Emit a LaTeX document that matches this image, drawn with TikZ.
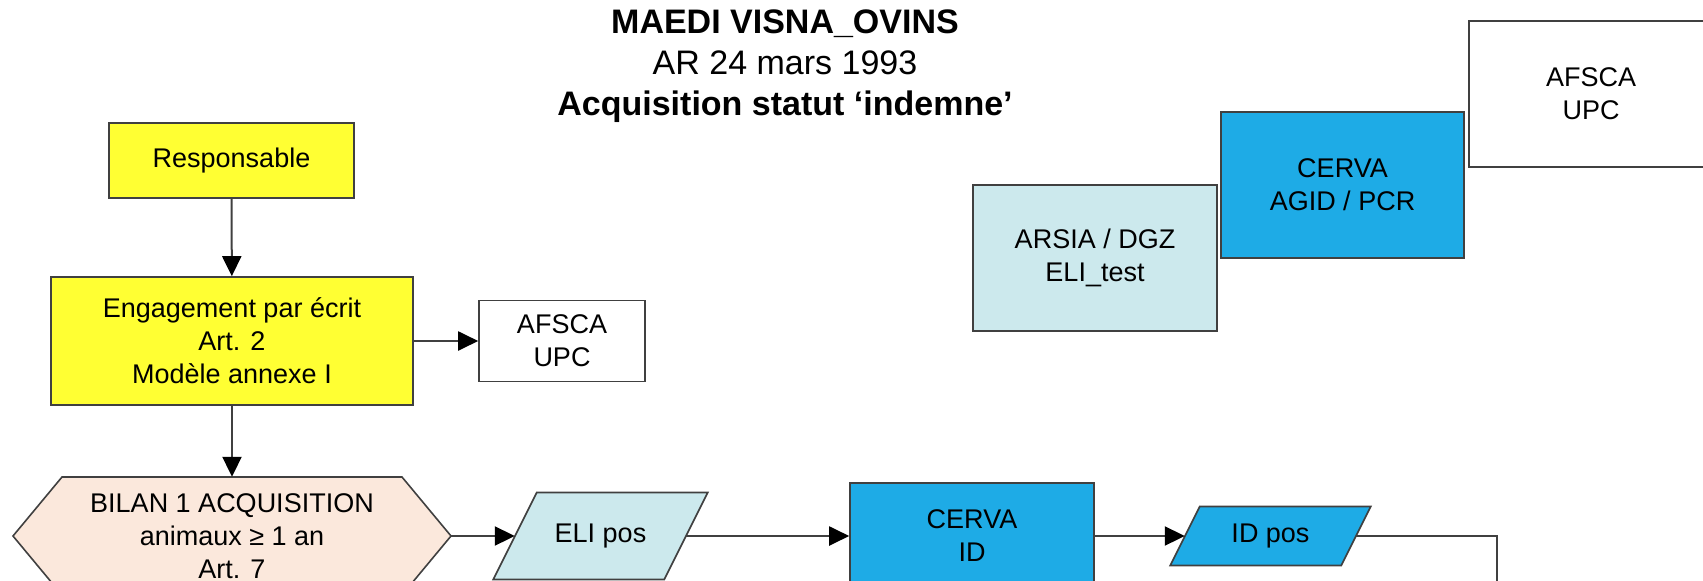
\documentclass[tikz,border=0pt]{standalone}
\usepackage{fontspec}
\setmainfont{Liberation Sans}
\usepackage{xcolor}
\usepackage{tikz}
\usetikzlibrary{arrows.meta}
\definecolor{lemon}{HTML}{FFFF33}
\definecolor{peach}{HTML}{FBE8DC}
\definecolor{paleblue}{HTML}{CCE9ED}
\definecolor{cervablue}{HTML}{1EABE6}
\definecolor{edge}{HTML}{404040}
\newcommand{\txtsize}{\fontsize{27}{33}\selectfont}
\newcommand{\titlesize}{\fontsize{34}{41}\selectfont}
\tikzset{ 
txt/.style = { black, draw = none, fill = none, align = center, inner sep = 0, font = \txtsize },
box/.style = { rectangle, draw = edge, fill = #1, line width = 1.6, align = center, inner sep = 0, font = \txtsize },
link/.style = { draw = edge, line width = 2, -{Triangle[length = 20pt, width = 19pt, color = black]} },
}
\tikzset{
pics/hexa/.style args={#1, #2}{
        code = {
        \path[draw = edge, fill = #2, line width = 1.6] (-219, 0) -- (-170, -59) -- (170, -59) -- (219, 0) -- (170, 59) -- (-170, 59) -- cycle;
        \node[txt, minimum width = 438, minimum height = 118] (-c) at (0, 0) {#1};
        }
    },
pics/data/.style args={#1, #2, #3}{
        code = {
        % half width 85.5 at mid height, slant = half of #3
        \path[draw = edge, fill = #2, line width = 1.6] (-85.5 - #3/2, #3) -- (85.5 - #3/2, #3) -- (85.5 + #3/2, -#3) -- (-85.5 + #3/2, -#3) -- cycle;
        \node[txt, minimum width = 171, minimum height = 2*#3] (-c) at (0, 0) {#1};
        }
    }
}
\begin{document}
\begin{tikzpicture}[x = 1pt, y = -1pt]
      \useasboundingbox (0, 0) rectangle (1703, 581);
      \clip (0, 0) rectangle (1703, 581);
      \node[txt, font = \titlesize] (title) at (785, 66) {\textbf{MAEDI VISNA\_OVINS}\\AR 24 mars 1993\\\textbf{Acquisition statut ‘indemne’}};
      \node[box = lemon, minimum width = 245, minimum height = 75] (resp) at (231.5, 160.5) {Responsable};
      \node[box = lemon, minimum width = 362, minimum height = 128] (engage) at (232, 341) {Engagement par écrit\\Art. 2\\Modèle annexe I};
      \node[box = white, minimum width = 166, minimum height = 81] (afsca) at (562, 341) {AFSCA\\UPC};
      \draw (232, 536) pic (bilan) {hexa = {BILAN 1 ACQUISITION\\animaux ≥ 1 an\\Art. 7, peach}};
      \draw (600.5, 536) pic (elipos) {data = {ELI pos, paleblue, 43.5}};
      \node[box = cervablue, minimum width = 244, minimum height = 106] (cervaid) at (972, 536) {CERVA\\ID};
      \draw (1270.5, 536) pic (idpos) {data = {ID pos, cervablue, 29.5}};
      \coordinate (exit) at (1497, 600);
      \node[box = paleblue, minimum width = 244, minimum height = 146] (arsia) at (1095, 258) {ARSIA / DGZ\\ELI\_test};
      \node[box = cervablue, minimum width = 243, minimum height = 146] (agid) at (1342.5, 185) {CERVA\\AGID / PCR};
      \node[box = white, minimum width = 244, minimum height = 146] (afscatop) at (1591, 94) {AFSCA\\UPC};
      \draw[link] (resp) -- (engage);
      \draw[link] (engage) -- (afsca);
      \draw[link] (engage) -- (bilan-c);
      \draw[link] (bilan-c) -- (elipos-c);
      \draw[link] (elipos-c) -- (cervaid);
      \draw[link] (cervaid) -- (idpos-c);
      \draw[draw = edge, line width = 2] (idpos-c) -| (exit);
    \end{tikzpicture}
\end{document}
